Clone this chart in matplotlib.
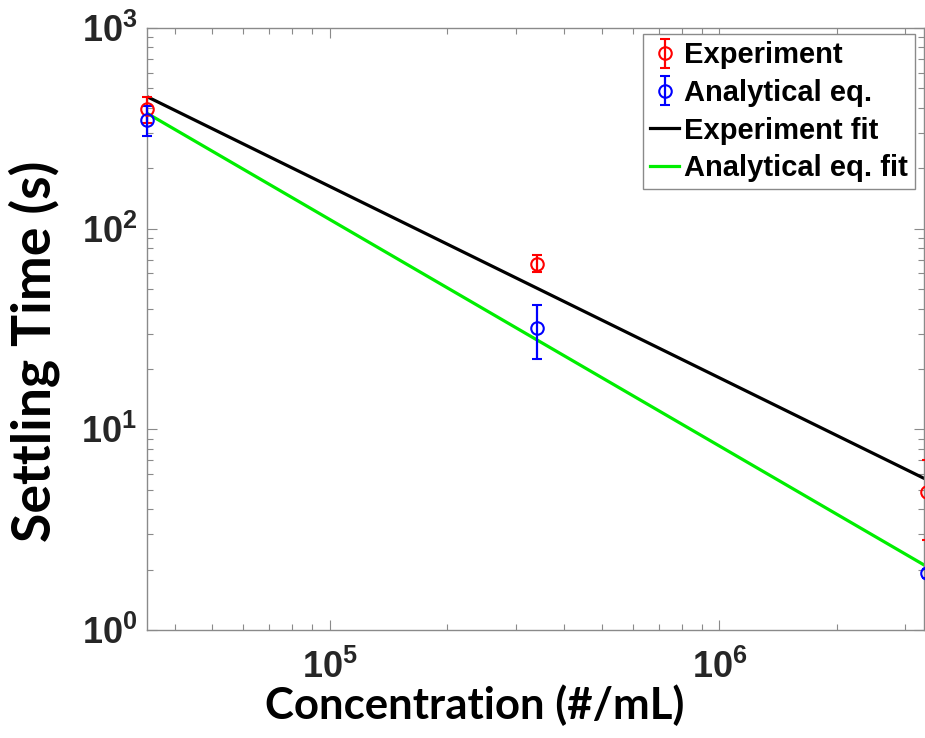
import matplotlib
matplotlib.use("Agg")
import matplotlib.pyplot as plt
from matplotlib.ticker import LogLocator, NullFormatter

# ---- data ----
conc = [3.4e4, 3.4e5, 3.4e6]
exp_time = [395, 67, 4.9]
exp_err = [58, 6.5, 2.1]
ana_time = [348, 32, 1.92]
ana_err = [59, 9.5, 0.1]
fit_x = [3.4e4, 3.35e6]
exp_fit = [455, 5.7]
ana_fit = [376, 2.11]
labels = ["Experiment", "Analytical eq.", "Experiment fit", "Analytical eq. fit"]

plt.rcParams['font.family'] = 'Liberation Sans'
plt.rcParams['font.weight'] = 'bold'

W, H = 925, 738
fig = plt.figure(figsize=(W / 100, H / 100), dpi=100)
ax = fig.add_axes([147 / W, 1 - 630 / H, (924 - 147) / W, (630 - 28) / H])

e1 = ax.errorbar(conc, exp_time, yerr=exp_err, fmt='o', color='red', mfc='none',
                 ms=9, mew=1.5, elinewidth=1.6, capsize=3.5, capthick=1.6,
                 label=labels[0], clip_on=False, zorder=3)
e2 = ax.errorbar(conc, ana_time, yerr=ana_err, fmt='o', color='blue', mfc='none',
                 ms=9, mew=1.5, elinewidth=1.6, capsize=3.5, capthick=1.6,
                 label=labels[1], clip_on=False, zorder=3)
for art in list(e1.lines[1]) + list(e1.lines[2]) + list(e2.lines[1]) + list(e2.lines[2]):
    art.set_clip_on(False)
l1, = ax.plot(fit_x, exp_fit, color='black', lw=2.3, label=labels[2], zorder=2)
l2, = ax.plot(fit_x, ana_fit, color='#00ee00', lw=2.3, label=labels[3], zorder=2)

ax.set_xscale('log')
ax.set_yscale('log')
ax.set_xlim(3.4e4, 3.35e6)
ax.set_ylim(1, 1000)

ax.xaxis.set_major_locator(LogLocator(base=10, numticks=10))
ax.xaxis.set_minor_locator(LogLocator(base=10, subs=range(2, 10), numticks=20))
ax.yaxis.set_minor_locator(LogLocator(base=10, subs=range(2, 10), numticks=20))
ax.xaxis.set_minor_formatter(NullFormatter())
ax.yaxis.set_minor_formatter(NullFormatter())

axcol = '#8a8a8a'
for s in ax.spines.values():
    s.set_color(axcol)
    s.set_linewidth(1.0)
ax.tick_params(which='both', direction='in', top=True, right=True, color=axcol,
               labelcolor='#262626', labelsize=26, width=0.8)
ax.tick_params(which='major', length=7)
ax.tick_params(axis='x', which='major', pad=14)
ax.tick_params(axis='y', which='major', pad=7)
ax.tick_params(which='minor', length=4)
for t in ax.get_xticklabels() + ax.get_yticklabels():
    t.set_fontweight('bold')

fig.text(475 / W, 1 - 705 / H, 'Concentration (#/mL)', ha='center', va='center',
         fontsize=31.5, fontweight='bold', family='Lato')
fig.text(34 / W, 1 - 351 / H, 'Settling Time (s)', ha='center', va='center',
         rotation=90, fontsize=38.5, fontweight='bold', family='Lato')

leg = ax.legend([e1, e2, l1, l2], labels, loc='upper right',
                bbox_to_anchor=(915 / W, 1 - 34 / H),
                bbox_transform=fig.transFigure, prop={'family': 'Liberation Sans',
                'weight': 'bold', 'size': 21}, frameon=True, fancybox=False,
                framealpha=1, edgecolor=axcol, handlelength=1.0, handletextpad=0.15,
                labelspacing=0.33, borderpad=0.25, borderaxespad=0)
leg.get_frame().set_linewidth(1.0)

fig.savefig('out.png', dpi=100)
